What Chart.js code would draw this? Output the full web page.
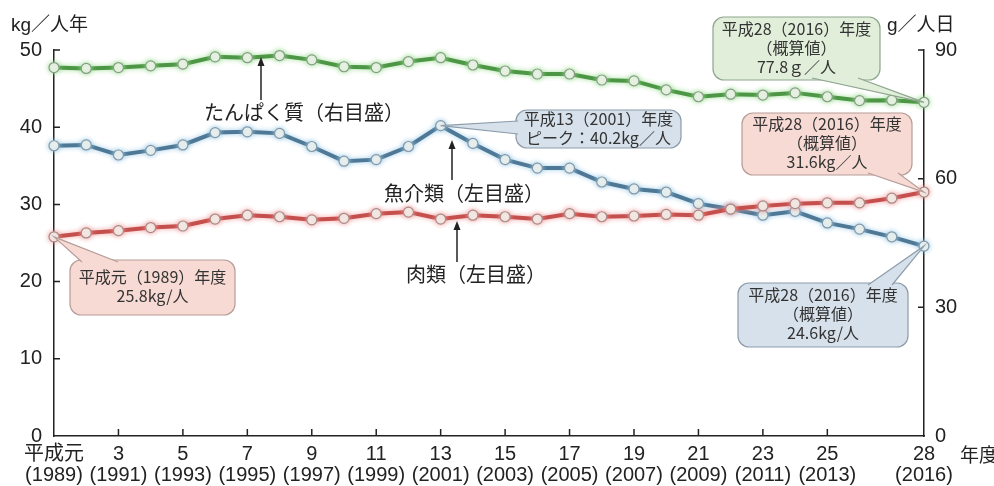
<!DOCTYPE html>
<html lang="ja">
<head>
<meta charset="UTF-8">
<title>魚介類・肉類・たんぱく質の供給量の推移</title>
<script src="https://cdn.jsdelivr.net/npm/chart.js"></script>
<style>
  html, body { margin: 0; padding: 0; background: #fff; }
  #wrap { width: 994px; height: 486px; }
</style>
</head>
<body>
<div id="wrap"><canvas id="c" width="994" height="486"></canvas></div>
<script>
// 年度（平成元〜28）
const years = [1989, 1990, 1991, 1992, 1993, 1994, 1995, 1996, 1997, 1998,
  1999, 2000, 2001, 2002, 2003, 2004, 2005, 2006, 2007, 2008,
  2009, 2010, 2011, 2012, 2013, 2014, 2015, 2016];
const tickYears = [1989, 1991, 1993, 1995, 1997, 1999, 2001, 2003, 2005, 2007, 2009, 2011, 2013, 2016];

// たんぱく質 g/人日（右目盛）
const protein = [85.9, 85.7, 85.9, 86.3, 86.7, 88.4, 88.2, 88.7, 87.7, 86.1,
  85.9, 87.3, 88.2, 86.5, 85.1, 84.4, 84.4, 83.0, 82.8, 80.7,
  79.1, 79.7, 79.5, 80.0, 79.1, 78.2, 78.3, 77.8];
// 魚介類 kg/人年（左目盛）
const fish = [37.6, 37.7, 36.4, 37.0, 37.7, 39.3, 39.4, 39.2, 37.5, 35.6,
  35.8, 37.5, 40.2, 37.9, 35.8, 34.7, 34.7, 32.9, 32.0, 31.6,
  30.1, 29.4, 28.6, 29.1, 27.6, 26.8, 25.8, 24.6];
// 肉類 kg/人年（左目盛）
const meat = [25.8, 26.3, 26.6, 27.0, 27.2, 28.1, 28.6, 28.4, 28.0, 28.2,
  28.8, 29.0, 28.1, 28.6, 28.4, 28.1, 28.8, 28.4, 28.5, 28.7,
  28.6, 29.4, 29.8, 30.1, 30.2, 30.2, 30.8, 31.6];

const leftTicks = [0, 10, 20, 30, 40, 50];
const rightTicks = [0, 30, 60, 90];

const LATIN = '"Liberation Sans", Arial, "Noto Sans CJK JP", sans-serif';
const CJK = '"Noto Sans CJK JP", sans-serif';

// 吹き出し（位置はピクセル、先端はデータ点）
const callouts = [
  { data: protein, axis: 'y2', idx: 27, x: 713, y: 17, w: 167, h: 63,
    fill: '#e1eed9', stroke: '#8ea58e', base: [[812, 78], [858, 78]],
    lines: ['平成28（2016）年度', '（概算値）', '77.8ｇ／人'] },
  { data: meat, axis: 'y', idx: 27, x: 742, y: 113, w: 170, h: 62,
    fill: '#f7dad3', stroke: '#b79c98', base: [[868, 173], [898, 173]],
    lines: ['平成28（2016）年度', '（概算値）', '31.6kg／人'] },
  { data: fish, axis: 'y', idx: 12, x: 516, y: 110, w: 165, h: 38,
    fill: '#d7e1eb', stroke: '#8c9cab', base: [[518, 121], [518, 134]],
    lines: ['平成13（2001）年度', 'ピーク：40.2kg／人'] },
  { data: meat, axis: 'y', idx: 0, x: 70, y: 260, w: 165, h: 55,
    fill: '#f7dad3', stroke: '#b79c98', base: [[82, 262], [118, 262]],
    lines: ['平成元（1989）年度', '25.8kg/人'] },
  { data: fish, axis: 'y', idx: 27, x: 738, y: 283, w: 170, h: 64,
    fill: '#d7e1eb', stroke: '#8c9cab', base: [[868, 285], [892, 285]],
    lines: ['平成28（2016）年度', '（概算値）', '24.6kg/人'] }
];

const seriesLabels = [
  { text: 'たんぱく質（右目盛）', x: 204, y: 112, ax: 261, ay1: 100, ay2: 57 },
  { text: '魚介類（左目盛）', x: 384, y: 193, ax: 452, ay1: 180, ay2: 140 },
  { text: '肉類（左目盛）', x: 406, y: 274, ax: 457, ay1: 262, ay2: 221 }
];

function roundRect(ctx, x, y, w, h, r) {
  ctx.beginPath();
  ctx.moveTo(x + r, y);
  ctx.arcTo(x + w, y, x + w, y + h, r);
  ctx.arcTo(x + w, y + h, x, y + h, r);
  ctx.arcTo(x, y + h, x, y, r);
  ctx.arcTo(x, y, x + w, y, r);
  ctx.closePath();
}

const halo = {
  id: 'halo',
  beforeDatasetDraw(chart, args) {
    const ctx = chart.ctx;
    ctx.save();
    ctx.shadowColor = chart.data.datasets[args.index].haloColor;
    ctx.shadowBlur = 5;
  },
  afterDatasetDraw(chart) {
    chart.ctx.restore();
  }
};

const decorations = {
  id: 'decorations',
  afterDraw(chart) {
    const { ctx, chartArea: a, scales } = chart;
    ctx.save();

    // 内向きの目盛線
    ctx.strokeStyle = '#222';
    ctx.lineWidth = 1.5;
    ctx.beginPath();
    leftTicks.forEach(v => {
      if (v === 0) return;
      const y = scales.y.getPixelForValue(v);
      ctx.moveTo(a.left, y); ctx.lineTo(a.left + 6, y);
    });
    rightTicks.forEach(v => {
      if (v === 0) return;
      const y = scales.y2.getPixelForValue(v);
      ctx.moveTo(a.right, y); ctx.lineTo(a.right - 6, y);
    });
    tickYears.forEach(yr => {
      if (yr === 1989 || yr === 2016) return;
      const x = scales.x.getPixelForValue(years.indexOf(yr));
      ctx.moveTo(x, a.bottom); ctx.lineTo(x, a.bottom - 7);
    });
    ctx.stroke();

    // 軸の単位
    ctx.fillStyle = '#222';
    ctx.textBaseline = 'middle';
    ctx.font = '19px ' + LATIN;
    ctx.textAlign = 'left';
    ctx.fillText('kg／人年', 11, 26);
    ctx.fillText('g／人日', 887, 26);
    ctx.font = '19px ' + CJK;
    ctx.fillText('年度', 960, 455);

    // 系列名と矢印
    seriesLabels.forEach(s => {
      ctx.font = '20px ' + CJK;
      ctx.fillStyle = '#222';
      ctx.textAlign = 'left';
      ctx.fillText(s.text, s.x, s.y);
      ctx.beginPath();
      ctx.moveTo(s.ax, s.ay1); ctx.lineTo(s.ax, s.ay2 + 6);
      ctx.lineWidth = 1.5;
      ctx.stroke();
      ctx.beginPath();
      ctx.moveTo(s.ax, s.ay2);
      ctx.lineTo(s.ax - 3.5, s.ay2 + 9);
      ctx.lineTo(s.ax + 3.5, s.ay2 + 9);
      ctx.closePath();
      ctx.fill();
    });

    // 吹き出し
    callouts.forEach(c => {
      const tx = scales.x.getPixelForValue(c.idx);
      const ty = scales[c.axis].getPixelForValue(c.data[c.idx]);
      ctx.lineWidth = 1.2;
      ctx.strokeStyle = c.stroke;
      ctx.fillStyle = c.fill;
      roundRect(ctx, c.x, c.y, c.w, c.h, 11);
      ctx.fill();
      ctx.stroke();
      ctx.beginPath();
      ctx.moveTo(c.base[0][0], c.base[0][1]);
      ctx.lineTo(tx, ty);
      ctx.lineTo(c.base[1][0], c.base[1][1]);
      ctx.closePath();
      ctx.fill();
      ctx.beginPath();
      ctx.moveTo(c.base[0][0], c.base[0][1]);
      ctx.lineTo(tx, ty);
      ctx.lineTo(c.base[1][0], c.base[1][1]);
      ctx.stroke();

      ctx.fillStyle = '#333';
      ctx.font = '16px ' + CJK;
      ctx.textAlign = 'center';
      const lh = 19;
      const cy = c.y + c.h / 2 - 1;
      c.lines.forEach((t, i) => {
        ctx.fillText(t, c.x + c.w / 2, cy + (i - (c.lines.length - 1) / 2) * lh);
      });
    });

    ctx.restore();
  }
};

const pointFill = '#f3f5ef';

new Chart(document.getElementById('c'), {
  type: 'line',
  data: {
    labels: years,
    datasets: [
      { label: '肉類', data: meat, yAxisID: 'y', borderColor: '#c44f4c', haloColor: 'rgba(240,150,150,0.9)',
        pointBorderColor: '#a88a88', pointBackgroundColor: pointFill },
      { label: '魚介類', data: fish, yAxisID: 'y', borderColor: '#4e7895', haloColor: 'rgba(150,200,230,0.9)',
        pointBorderColor: '#8497a6', pointBackgroundColor: pointFill },
      { label: 'たんぱく質', data: protein, yAxisID: 'y2', borderColor: '#4c9646', haloColor: 'rgba(150,220,140,0.9)',
        pointBorderColor: '#879c86', pointBackgroundColor: pointFill }
    ]
  },
  options: {
    responsive: false,
    animation: false,
    layout: { padding: { top: 50, left: 0, right: 0, bottom: 0 } },
    elements: {
      line: { borderWidth: 4, tension: 0 },
      point: { radius: 5, borderWidth: 1.2 }
    },
    datasets: { line: { clip: false } },
    plugins: { legend: { display: false }, tooltip: { enabled: false } },
    scales: {
      x: {
        type: 'category',
        offset: false,
        afterFit: s => { s.height = 50; },
        grid: { display: true, drawOnChartArea: false, drawTicks: false },
        border: { display: true, color: '#222', width: 1.5 },
        ticks: {
          autoSkip: false, maxRotation: 0, minRotation: 0, padding: 8,
          color: '#222',
          font: { family: LATIN, size: 20, lineHeight: 1.05 },
          callback: (v, i) => {
            const yr = years[i];
            if (!tickYears.includes(yr)) return '';
            return [yr === 1989 ? '平成元' : String(yr - 1988), '(' + yr + ')'];
          }
        }
      },
      y: {
        position: 'left',
        min: 0, max: 50,
        afterFit: s => { s.width = 54; },
        afterBuildTicks: s => { s.ticks = leftTicks.map(v => ({ value: v })); },
        grid: { display: true, drawOnChartArea: false, drawTicks: false },
        border: { display: true, color: '#222', width: 1.5 },
        ticks: { padding: 12, color: '#222', font: { family: LATIN, size: 20 } }
      },
      y2: {
        position: 'right',
        min: 0, max: 90,
        afterFit: s => { s.width = 70; },
        afterBuildTicks: s => { s.ticks = rightTicks.map(v => ({ value: v })); },
        grid: { display: true, drawOnChartArea: false, drawTicks: false },
        border: { display: true, color: '#222', width: 1.5 },
        ticks: { padding: 11, color: '#222', font: { family: LATIN, size: 20 } }
      }
    }
  },
  plugins: [halo, decorations]
});
</script>
</body>
</html>
